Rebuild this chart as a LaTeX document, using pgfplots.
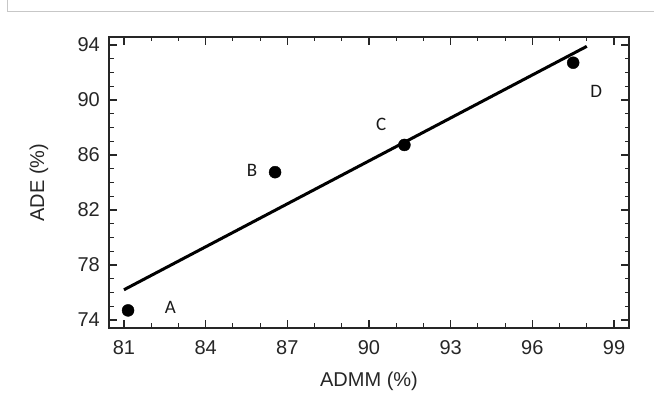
\documentclass[border=0pt]{standalone}
\usepackage{pgfplots}
\pgfplotsset{compat=1.18}
\usepackage{fontspec}
\setmainfont{Liberation Sans}
\newfontfamily\calib{Carlito}
\begin{document}
\begin{tikzpicture}[x=1pt,y=1pt]
\path[use as bounding box] (0,0) rectangle (654,398);
\draw[black!22, line width=0.8pt] (7.3,398) -- (7.3,386.7) -- (654,386.7);
\begin{axis}[
  at={(109pt,70pt)}, anchor=south west,
  scale only axis, width=520pt, height=291pt,
  xmin=80.45, xmax=99.55, ymin=73.42, ymax=94.58,
  xtick={81,84,...,99}, ytick={74,78,...,94},
  minor x tick num=2, minor y tick num=3,
  tick align=inside,
  major tick length=8pt, minor tick length=4.5pt,
  axis line style={line width=1.5pt, black!85},
  every tick/.style={line width=1.1pt, black!85},
  tick label style={font=\fontsize{20}{23}\selectfont, text=black!85, inner sep=0pt},
  xticklabel style={anchor=center, yshift=-19.5pt},
  yticklabel style={anchor=east, xshift=-9pt},
  /pgf/number format/assume math mode=true,
  xlabel={ADMM (\%)}, ylabel={ADE (\%)},
  label style={font=\fontsize{20}{23}\selectfont, text=black!85},
  xlabel style={at={(axis description cs:0.5,-0.1845)}, anchor=center},
  ylabel style={at={(axis description cs:-0.1346,0.5)}, anchor=center},
  clip=false,
]
\addplot[black, line width=3pt] coordinates {(81.0,76.2) (98.0,93.9)};
\addplot[only marks, mark=*, mark size=6pt, black] coordinates {
  (81.15,74.7) (86.55,84.75) (91.3,86.73) (97.5,92.71)};
\addplot[only marks, mark=none, nodes near coords, point meta=explicit symbolic,
  every node near coord/.style={anchor=center, font=\calib\fontsize{19}{22}\selectfont, text=black!90}]
  table[meta=label] {
x y label
82.7 74.95 A
85.7 84.9 B
90.45 88.25 C
98.35 90.65 D
};
\end{axis}
\end{tikzpicture}
\end{document}
